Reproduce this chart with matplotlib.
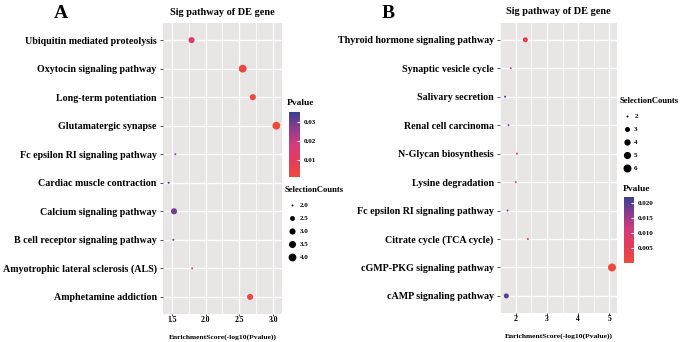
import matplotlib
matplotlib.use('Agg')
import matplotlib.pyplot as plt
import numpy as np
from matplotlib.colors import LinearSegmentedColormap, Normalize
from matplotlib.cm import ScalarMappable
from matplotlib.ticker import MultipleLocator

# panel A data
pathways_a = ['Ubiquitin mediated proteolysis', 'Oxytocin signaling pathway',
              'Long-term potentiation', 'Glutamatergic synapse',
              'Fc epsilon RI signaling pathway', 'Cardiac muscle contraction',
              'Calcium signaling pathway', 'B cell receptor signaling pathway',
              'Amyotrophic lateral sclerosis (ALS)', 'Amphetamine addiction']
score_a = [1.79, 2.55, 2.70, 3.05, 1.55, 1.45, 1.53, 1.52, 1.80, 2.66]
count_a = [3, 4, 3, 4, 2, 2, 3, 2, 2, 3]
xticks_a = [1.5, 2.0, 2.5, 3.0]
cbar_ticks_a = [0.01, 0.02, 0.03]
size_keys_a = [2.0, 2.5, 3.0, 3.5, 4.0]

# panel B data
pathways_b = ['Thyroid hormone signaling pathway', 'Synaptic vesicle cycle',
              'Salivary secretion', 'Renal cell carcinoma',
              'N-Glycan biosynthesis', 'Lysine degradation',
              'Fc epsilon RI signaling pathway', 'Citrate cycle (TCA cycle)',
              'cGMP-PKG signaling pathway', 'cAMP signaling pathway']
score_b = [2.31, 1.84, 1.66, 1.77, 2.04, 2.00, 1.74, 2.39, 5.08, 1.70]
count_b = [3, 2, 2, 2, 2, 2, 2, 2, 6, 3]
xticks_b = [2, 3, 4, 5]
cbar_ticks_b = [0.005, 0.010, 0.015, 0.020]
size_keys_b = [2, 3, 4, 5, 6]

plt.rcParams['font.family'] = ['Liberation Serif', 'DejaVu Serif']
plt.rcParams['font.weight'] = 'bold'

cmap = LinearSegmentedColormap.from_list(
    'pv', ['#EE4A3A', '#E63A5A', '#D43C7C', '#8C3D8E', '#3A3F8F'])

fig = plt.figure(figsize=(6.9, 3.42), dpi=100)


def msize(c, cmin, cmax, dmin, dmax):
    # ggplot-like area scale, diameter in px -> points^2
    frac = (np.asarray(c, float) - cmin) / (cmax - cmin)
    d = dmin + (dmax - dmin) * np.sqrt(frac)
    return (d * 0.72) ** 2


def panel(rect, names, score, count, xticks, xlim, minor, keys, cticks,
          cfmt, cax_rect, size_anchor, pv_anchor, letter, letter_xy, dmax):
    ax = fig.add_axes(rect)
    ax.set_facecolor('#E8E5E5')
    n = len(names)
    ypos = np.arange(n)[::-1] + 1
    score = np.array(score)
    pv = 10 ** (-score)
    norm = Normalize(pv.min(), pv.max())
    cmin, cmax = min(keys), max(keys)
    ax.scatter(score, ypos, s=msize(count, cmin, cmax, 2.0, dmax),
               c=pv, cmap=cmap, norm=norm, zorder=3, linewidths=0)
    ax.set_yticks(ypos)
    ax.set_yticklabels(names, fontsize=7.2, fontweight='bold')
    ax.set_ylim(0.4, n + 0.6)
    ax.set_xlim(*xlim)
    ax.set_xticks(xticks)
    ax.set_xticklabels([('%g' % t) if isinstance(t, int) else '%.1f' % t
                        for t in xticks], fontsize=5.5, fontweight='bold')
    ax.xaxis.set_minor_locator(MultipleLocator(minor))
    ax.grid(which='major', color='white', linewidth=0.9)
    ax.grid(which='minor', axis='x', color='white', linewidth=0.5)
    ax.set_axisbelow(True)
    for sp in ax.spines.values():
        sp.set_visible(False)
    ax.tick_params(axis='y', which='major', length=2.5, width=0.6,
                   color='#333333', pad=2)
    ax.tick_params(axis='x', which='major', length=1.5, width=0.6,
                   color='#333333', pad=0)
    ax.tick_params(which='minor', length=0)
    ax.set_xlabel('EnrichmentScore(-log10(Pvalue))', fontsize=5.4,
                  fontweight='bold', labelpad=7)
    ax.set_title('Sig pathway of DE gene', fontsize=7.4, fontweight='bold',
                 pad=6)
    fig.text(letter_xy[0], letter_xy[1], letter, fontsize=14,
             fontweight='bold', ha='center', va='baseline')

    # colour bar
    cax = fig.add_axes(cax_rect)
    cb = fig.colorbar(ScalarMappable(norm=norm, cmap=cmap), cax=cax)
    cb.outline.set_visible(False)
    cb.set_ticks(cticks)
    cb.set_ticklabels([cfmt % t for t in cticks])
    cax.tick_params(length=2, color='white', direction='in', labelsize=5,
                    pad=3)
    for lab in cax.get_yticklabels():
        lab.set_fontweight('bold')
    fig.text(pv_anchor[0], pv_anchor[1], 'Pvalue', fontsize=6.8,
             fontweight='bold', ha='left', va='center')

    # size legend
    handles = [ax.scatter([], [], s=msize(k, cmin, cmax, 2.0, dmax),
                          color='black', linewidths=0) for k in keys]
    labels = [('%g' % k) if isinstance(k, int) else '%.1f' % k for k in keys]
    leg = ax.legend(handles, labels, title='SelectionCounts', loc='upper left',
                    bbox_to_anchor=size_anchor,
                    bbox_transform=fig.transFigure, frameon=False,
                    prop={'size': 5, 'weight': 'bold'}, labelspacing=1.05,
                    handletextpad=0.1, borderaxespad=0, borderpad=0,
                    title_fontproperties={'size': 6.2, 'weight': 'bold'})
    leg._legend_box.align = 'left'
    return ax


panel([0.2362, 0.0819, 0.1725, 0.8508], pathways_a, score_a, count_a,
      xticks_a, (1.366, 3.134), 0.25, size_keys_a, cbar_ticks_a, '%.2f',
      [0.4188, 0.4825, 0.016, 0.19], (0.413, 0.455), (0.415, 0.70),
      'A', (0.088, 0.946), 7.8)

panel([0.7246, 0.0848, 0.1696, 0.8488], pathways_b, score_b, count_b,
      xticks_b, (1.497, 5.24), 0.5, size_keys_b, cbar_ticks_b, '%.3f',
      [0.9043, 0.231, 0.0145, 0.193], (0.898, 0.715), (0.902, 0.447),
      'B', (0.562, 0.948), 8.0)

fig.savefig('out.png', dpi=100, facecolor='white')
